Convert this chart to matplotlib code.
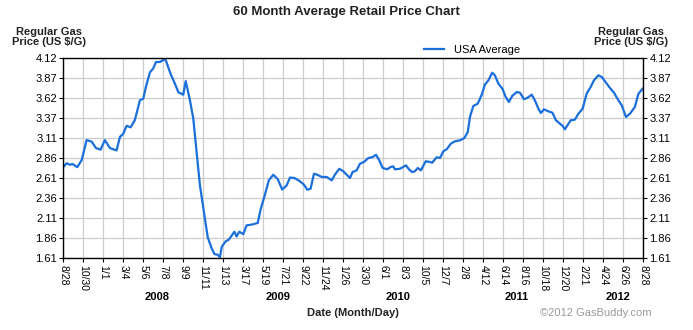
import numpy as np
import matplotlib
matplotlib.use("Agg")
import matplotlib.pyplot as plt

plt.rcParams['font.family'] = ['Liberation Sans', 'DejaVu Sans']

# weeks since 8/28/2007 and weekly USA average price ($/gal)
weeks = [0.0, 1.5, 3.0, 4.2, 6.3, 8.3, 10.5, 12.8, 14.7, 16.8, 18.7, 21.0, 24.0, 25.5,
         27.0, 28.5, 30.3, 32.2, 34.5, 36.0, 37.2, 39.0, 40.5, 41.7, 43.5, 45.9, 48.3,
         50.2, 51.8, 54.0, 55.1, 56.0, 57.0, 58.5, 60.0, 61.5, 63.5, 65.0, 66.8, 68.0,
         69.5, 70.5, 71.3, 73.1, 74.5, 77.0, 78.0, 79.2, 81.0, 82.5, 85.0, 87.5, 88.9,
         90.7, 92.5, 94.5, 96.5, 98.5, 100.5, 102.0, 104.0, 106.5, 108.3, 109.8, 111.3,
         112.8, 114.3, 116.3, 118.5, 120.8, 122.2, 124.2, 126.0, 129.0, 130.2, 132.0,
         133.5, 135.3, 137.3, 139.2, 140.7, 142.2, 143.7, 145.8, 147.3, 148.5, 149.2,
         151.5, 154.2, 155.7, 157.0, 158.2, 159.5, 160.9, 163.1, 165.0, 166.0, 168.0,
         169.5, 171.0, 172.5, 174.4, 176.2, 178.5, 180.5, 182.0, 183.0, 184.5, 186.5,
         188.3, 189.7, 191.3, 193.0, 194.2, 195.8, 197.6, 199.1, 200.5, 202.0, 204.0,
         205.5, 207.3, 208.8, 210.8, 212.2, 213.8, 214.9, 216.3, 218.3, 220.1, 221.7,
         223.5, 224.7, 225.7, 227.3, 228.3, 230.2, 231.8, 233.7, 235.5, 237.3, 238.8,
         240.8, 242.3, 244.2, 246.0, 247.8, 249.8, 251.3, 253.2, 255.0, 257.2, 258.8,
         261.0]
price = [2.75, 2.80, 2.78, 2.79, 2.75, 2.84, 3.09, 3.07, 2.99, 2.97, 3.09, 2.99, 2.96, 3.13,
         3.17, 3.27, 3.25, 3.34, 3.59, 3.61, 3.76, 3.94, 3.99, 4.07, 4.07, 4.11, 3.92,
         3.80, 3.69, 3.66, 3.83, 3.715, 3.59, 3.36, 2.94, 2.52, 2.15, 1.87, 1.73, 1.66,
         1.65, 1.62, 1.75, 1.82, 1.84, 1.94, 1.88, 1.94, 1.91, 2.02, 2.03, 2.05, 2.23,
         2.40, 2.585, 2.655, 2.60, 2.47, 2.52, 2.62, 2.614, 2.573, 2.53, 2.467, 2.48,
         2.668, 2.655, 2.627, 2.627, 2.585, 2.655, 2.73, 2.698, 2.614, 2.689, 2.71,
         2.793, 2.815, 2.865, 2.877, 2.906, 2.836, 2.74, 2.723, 2.752, 2.76, 2.723,
         2.73, 2.773, 2.718, 2.689, 2.698, 2.74, 2.71, 2.824, 2.815, 2.806, 2.874,
         2.865, 2.949, 2.974, 3.045, 3.074, 3.087, 3.116, 3.191, 3.38, 3.518, 3.547,
         3.66, 3.785, 3.84, 3.936, 3.903, 3.797, 3.735, 3.63, 3.568, 3.643, 3.693,
         3.685, 3.602, 3.62, 3.66, 3.589, 3.484, 3.43, 3.476, 3.45, 3.434, 3.338,
         3.296, 3.267, 3.225, 3.296, 3.338, 3.346, 3.421, 3.484, 3.672, 3.756, 3.84,
         3.903, 3.882, 3.81, 3.744, 3.685, 3.589, 3.526, 3.38, 3.421, 3.505, 3.672,
         3.744]

date_labels = ['8/28', '10/30', '1/1', '3/4', '5/6', '7/8', '9/9', '11/11', '1/13', '3/17',
               '5/19', '7/21', '9/22', '11/24', '1/26', '3/30', '6/1', '8/3', '10/5', '12/7',
               '2/8', '4/12', '6/14', '8/16', '10/18', '12/20', '2/21', '4/24', '6/26', '8/28']
price_ticks = [1.61, 1.86, 2.11, 2.36, 2.61, 2.86, 3.11, 3.37, 3.62, 3.87, 4.12]
years = ['2008', '2009', '2010', '2011', '2012']
year_pos = [42.3, 96.5, 150.6, 204.0, 249.5]  # in weeks

fig = plt.figure(figsize=(6.93, 3.30), dpi=100)
ax = fig.add_axes([0.0913, 0.2182, 0.837, 0.606])

ax.plot(weeks, price, color='#1a6fdc', lw=1.6, label='USA Average', solid_joinstyle='round')

ax.set_xlim(0, 261)
ax.set_ylim(1.61, 4.12)
ax.set_xticks(np.arange(0, 262, 9))
ax.set_xticklabels(date_labels, rotation=270, fontsize=7.5)
ax.set_yticks(price_ticks)
ax.set_yticklabels(['%.2f' % p for p in price_ticks], fontsize=8)
ax.tick_params(axis='y', left=True, right=True, labelleft=True, labelright=True,
               length=3, width=0.8, pad=1.5)
ax.tick_params(axis='x', length=3, width=0.8, pad=2)
ax.grid(True, color='#cccccc', lw=0.9)
for s in ax.spines.values():
    s.set_linewidth(1.0)

for y, p in zip(years, year_pos):
    ax.text(p, -0.17, y, transform=ax.get_xaxis_transform(), ha='center', va='top',
            fontsize=8, fontweight='bold')

fig.text(0.5, 0.965, '60 Month Average Retail Price Chart', ha='center', va='center',
         fontsize=9.5, fontweight='bold', color='#222222')
fig.text(0.07, 0.888, 'Regular Gas\nPrice (US $/G)', ha='center', va='center',
         fontsize=8, fontweight='bold', linespacing=1.1, color='#222222')
fig.text(0.91, 0.888, 'Regular Gas\nPrice (US $/G)', ha='center', va='center',
         fontsize=8, fontweight='bold', linespacing=1.1, color='#222222')
fig.text(0.51, 0.05, 'Date (Month/Day)', ha='center', va='center',
         fontsize=8, fontweight='bold', color='#222222')
fig.text(0.94, 0.05, '\u00a92012 GasBuddy.com', ha='right', va='center',
         fontsize=8, color='#999999')

ax.legend(loc='center left', bbox_to_anchor=(0.615, 1.04), frameon=False,
          fontsize=8, handlelength=1.8, handletextpad=0.9, borderaxespad=0)

fig.savefig('out.png', dpi=100)
